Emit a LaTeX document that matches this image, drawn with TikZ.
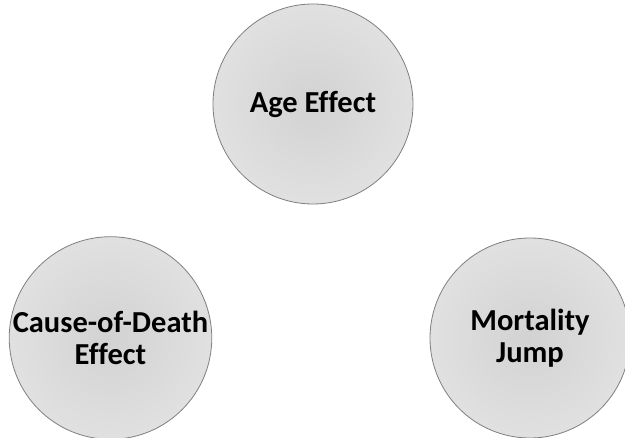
\documentclass[tikz,border=0pt]{standalone}
\usepackage{fontspec}
\setmainfont{Carlito}[Ligatures=NoCommon]
\definecolor{cin}{HTML}{D2D2D2}
\definecolor{cout}{HTML}{EFEFEF}
\definecolor{edgec}{HTML}{7F7F7F}
\pgfdeclareradialshading{ballshade}{\pgfpoint{0bp}{0bp}}{color(0bp)=(cin); color(50bp)=(cout)}
\begin{document}
\begin{tikzpicture}[x=1pt,y=-1pt,
  bub/.style={circle, minimum size=200pt, inner sep=0pt, draw=edgec, line width=0.8pt,
    shading=ballshade, font=\bfseries\fontsize{30.5}{32}\selectfont, align=center, text=black}]
\useasboundingbox (0,0) rectangle (625,438);
\clip (0,0) rectangle (625,438);
\node[bub] (age) at (313,104) {Age Effect};
\node[bub] (cod) at (110.5,338) {Cause-of-Death\\Effect};
\node[bub] (mj) at (530,338) {Mortality\\Jump};
\end{tikzpicture}
\end{document}
